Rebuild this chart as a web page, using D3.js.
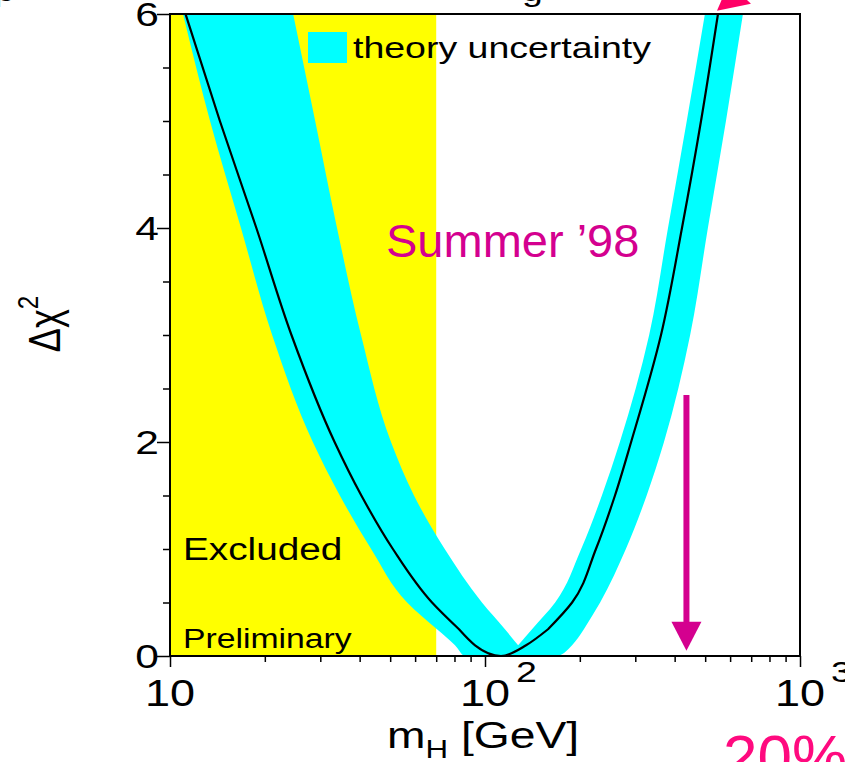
<!DOCTYPE html>
<html><head><meta charset="utf-8">
<script src="https://cdn.jsdelivr.net/npm/d3@7"></script>
<style>body{margin:0;background:#fff}svg{display:block}</style>
</head><body>
<svg id="chart" width="845" height="762"></svg>
<script>
// ---- data ----
const chi2Levels   = [6, 5, 4, 3, 2, 1.5, 1, 0.5, 0.25, 0.1, 0];
// central fit curve: mass (GeV) where the curve crosses each level
const fitLeftMass  = [11.2, 14.4, 18.8, 24.3, 33.3, 40.5, 51.0, 67.9, 82.7, 93.0, 112.4];
const fitRightMass = [549, 485, 422, 362, 291, 258.6, 225, 189, 158.5, 135, 112.4];
// theory-uncertainty band: outer edge (lower envelope)
const bandOuterLeftMass  = [11.0, 13.4, 16.8, 21.1, 28.4, 34.6, 43.5, 56.6, 70.4, 80.3, 86.4];
const bandOuterRightMass = [659, 582, 510, 448, 370, 326, 280, 232, 206, 189, 169];
// inner edge (upper envelope), meeting at the notch
const innerLevels        = [6, 5, 4, 3, 2, 1.5, 1, 0.5, 0.25, 0.1];
const bandInnerLeftMass  = [24.6, 28.9, 33.9, 40.4, 50.3, 59.5, 74.5, 97.8, 115.7, 127.4];
const bandInnerRightMass = [499, 437, 381, 332, 268, 235, 202, 167, 141, 127.4];
const excludedMass = [10, 70];
const arrowMass = 436, arrowFrom = 2.44, arrowTo = 0.05;
const xMajorTicks = [10, 100, 1000];
const xTickBase   = ["10", "10", "10"];
const xTickExp    = ["", "2", "3"];
const xMinorTicks = [20,30,40,50,60,70,80,90,200,300,400,500,600,700,800,900];
const yMajorTicks = [0, 2, 4, 6];
const yMinorTicks = [0.5,1,1.5,2.5,3,3.5,4.5,5,5.5];

// ---- layout ----
const svg = d3.select("#chart");
const L = 170, R = 800, T = 14, B = 656;
const SX = 1.25; // horizontal stretch of the original figure's lettering
const x = d3.scaleLog().domain([10, 1000]).range([L, R]);
const y = d3.scaleLinear().domain([0, 6]).range([B, T]);
const font = "'Liberation Sans', Arial, Helvetica, sans-serif";

svg.append("rect").attr("width", 845).attr("height", 762).attr("fill", "#fff");
svg.append("defs").append("clipPath").attr("id", "plot")
  .append("rect").attr("x", L).attr("y", T).attr("width", R - L).attr("height", B - T);
const g = svg.append("g").attr("clip-path", "url(#plot)");

// excluded region
g.append("rect")
  .attr("x", x(excludedMass[0])).attr("y", y(6))
  .attr("width", x(excludedMass[1]) - x(excludedMass[0]))
  .attr("height", y(0) - y(6)).attr("fill", "#ffff00");

const lineY = d3.line().x(d => x(d[0])).y(d => y(d[1])).curve(d3.curveMonotoneY);
const lineX = d3.line().x(d => x(d[0])).y(d => y(d[1])).curve(d3.curveMonotoneX);
const cont = p => p.replace(/^M/, "L");
const pairs = (ms, ls) => ms.map((m, i) => [m, ls[i]]);
const K = 8; // index of level 0.25: branches above, valley below

// band: lower envelope (closed along the top) minus the region above the upper envelope
const oL = pairs(bandOuterLeftMass, chi2Levels);
const oR = pairs(bandOuterRightMass, chi2Levels);
const outerPath = lineY(oL.slice(0, K + 1))
  + cont(lineX(oL.slice(K).concat(oR.slice(K).reverse())))
  + cont(lineY(oR.slice(0, K + 1).reverse())) + "Z";
const iL = pairs(bandInnerLeftMass, innerLevels);
const iR = pairs(bandInnerRightMass, innerLevels).reverse();
const innerPath = lineY(iL) + cont(lineY(iR)) + "Z";
g.append("path").attr("d", outerPath + innerPath).attr("fill", "#00ffff").attr("fill-rule", "evenodd");

// central curve
const fL = pairs(fitLeftMass, chi2Levels);
const fR = pairs(fitRightMass, chi2Levels);
const fitPath = lineY(fL.slice(0, K + 1))
  + cont(lineX(fL.slice(K).concat(fR.slice(K, -1).reverse())))
  + cont(lineY(fR.slice(0, K + 1).reverse()));
g.append("path").attr("d", fitPath).attr("fill", "none")
  .attr("stroke", "#000").attr("stroke-width", 2.2).attr("stroke-linejoin", "round");

// frame
svg.append("rect").attr("x", L).attr("y", T).attr("width", R - L).attr("height", B - T)
  .attr("fill", "none").attr("stroke", "#000").attr("stroke-width", 2);

// axes
function styleAxis(sel) {
  sel.select(".domain").remove();
  sel.selectAll("line").attr("stroke", "#000").attr("stroke-width", 1.5);
}
svg.append("g").attr("transform", `translate(0,${B})`)
  .call(d3.axisBottom(x).tickValues(xMajorTicks).tickSize(11).tickFormat("")).call(styleAxis);
svg.append("g").attr("transform", `translate(0,${B})`)
  .call(d3.axisBottom(x).tickValues(xMinorTicks).tickSize(6).tickFormat("")).call(styleAxis);
svg.append("g").attr("transform", `translate(${L},0)`)
  .call(d3.axisLeft(y).tickValues(yMajorTicks).tickSize(13).tickFormat("")).call(styleAxis);
svg.append("g").attr("transform", `translate(${L},0)`)
  .call(d3.axisLeft(y).tickValues(yMinorTicks).tickSize(7).tickFormat("")).call(styleAxis);

function txt(px, py, s, size, anchor, stretch, color) {
  return svg.append("text")
    .attr("transform", `translate(${px},${py}) scale(${stretch},1)`)
    .attr("font-family", font).attr("font-size", size)
    .attr("text-anchor", anchor).attr("fill", color || "#000").text(s);
}

// y tick labels
yMajorTicks.forEach(v => txt(L - 11, y(v) + 12, String(v), 34, "end", SX));
// x tick labels
xMajorTicks.forEach((v, i) => {
  txt(x(v), 706, xTickBase[i], 36, "middle", SX);
  if (xTickExp[i]) txt(x(v) + 31, 682, xTickExp[i], 30, "start", SX);
});

// axis titles
const xt = svg.append("text").attr("transform", `translate(387,748) scale(${SX},1)`)
  .attr("font-family", font).attr("font-size", 37);
xt.append("tspan").text("m");
xt.append("tspan").attr("font-size", 25).attr("dy", 10).text("H");
xt.append("tspan").attr("dy", -10).text(" [GeV]");

const yt = svg.append("text").attr("transform", `translate(60,324) scale(${SX},1) rotate(-90)`)
  .attr("font-family", font).attr("font-size", 36).attr("text-anchor", "middle");
yt.append("tspan").text("Δχ");
yt.append("tspan").attr("font-size", 24).attr("dy", -18).text("2");

// legend
svg.append("rect").attr("x", 308).attr("y", 32).attr("width", 39).attr("height", 31).attr("fill", "#00ffff");
txt(353, 58, "theory uncertainty", 30, "start", SX);

// labels in excluded region
txt(183, 560, "Excluded", 31, "start", SX);
txt(183, 648, "Preliminary", 27, "start", SX);

// Summer '98
txt(386, 257, "Summer ’98", 47, "start", 1, "#d4008f");

// arrow
const ac = "#d4008f";
svg.append("line").attr("x1", x(arrowMass)).attr("x2", x(arrowMass))
  .attr("y1", y(arrowFrom)).attr("y2", y(arrowTo) - 25)
  .attr("stroke", ac).attr("stroke-width", 6);
svg.append("path").attr("d", d3.line()([
  [x(arrowMass) - 15, y(arrowTo) - 29], [x(arrowMass) + 15, y(arrowTo) - 29], [x(arrowMass), y(arrowTo)]
]) + "Z").attr("fill", ac);

// partial annotations cut by the edge of the picture
const tipMass = 545, tipChi = 6.03;
svg.append("path").attr("d", d3.line()([
  [x(tipMass), y(tipChi)], [x(tipMass) + 34, y(tipChi) - 7], [x(tipMass) + 12, y(tipChi) - 28]
]) + "Z").attr("fill", "#ff0066");
txt(522, 1, "g", 30, "start", SX);
txt(-6, 1, "p", 30, "start", SX);
txt(723, 778, "20%", 62, "start", 1, "#ff0a7f");
</script>
</body></html>
